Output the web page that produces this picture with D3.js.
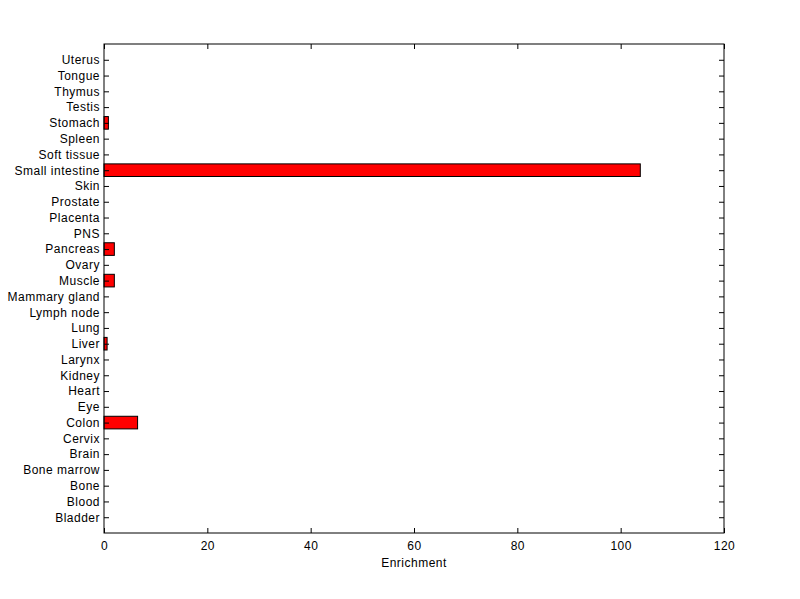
<!DOCTYPE html>
<html>
<head>
<meta charset="utf-8">
<script src="https://cdn.jsdelivr.net/npm/d3@7"></script>
<style>
  body { margin: 0; background: #fff; }
  svg { display: block; font-family: "Liberation Sans", Arial, sans-serif; letter-spacing: 0.5px; }
</style>
</head>
<body>
<script>
// Tissues, bottom to top as drawn
const tissues = ["Bladder", "Blood", "Bone", "Bone marrow", "Brain", "Cervix", "Colon", "Eye",
  "Heart", "Kidney", "Larynx", "Liver", "Lung", "Lymph node", "Mammary gland", "Muscle",
  "Ovary", "Pancreas", "PNS", "Placenta", "Prostate", "Skin", "Small intestine",
  "Soft tissue", "Spleen", "Stomach", "Testis", "Thymus", "Tongue", "Uterus"];
const enrichment = [0, 0, 0, 0, 0, 0, 6.5, 0,
  0, 0, 0, 0.6, 0, 0, 0, 2.0,
  0, 2.0, 0, 0, 0, 0, 103.8,
  0, 0, 0.85, 0, 0, 0, 0];
const xTicks = [0, 20, 40, 60, 80, 100, 120];

const data = tissues.map((t, i) => ({ tissue: t, value: enrichment[i], pos: i + 1 }));

// Set up the dimensions and margins of the chart
const margin = { top: 44, right: 76, bottom: 66, left: 104 };
const width = 800 - margin.left - margin.right;
const height = 599 - margin.top - margin.bottom;

const svg = d3.select("body")
  .append("svg")
  .attr("width", 800)
  .attr("height", 599)
  .append("g")
  .attr("transform", `translate(${margin.left},${margin.top})`);

// Scales
const x = d3.scaleLinear().domain([0, 120]).range([0, width]);
const y = d3.scaleLinear().domain([0, tissues.length + 1]).range([height, 0]);
const step = y(0) - y(1);
const barH = step * 0.8;

// Bars
svg.selectAll("rect.bar")
  .data(data.filter(d => d.value > 0))
  .join("rect")
  .attr("class", "bar")
  .attr("x", x(0))
  .attr("y", d => y(d.pos) - barH / 2)
  .attr("width", d => x(d.value) - x(0))
  .attr("height", barH)
  .attr("fill", "#ff0000")
  .attr("stroke", "#000")
  .attr("stroke-width", 1);

// Axes, ticks pointing inward
const tickLen = 5;
const styleAxis = g => {
  g.select(".domain").remove();
  g.selectAll("line").attr("stroke", "#000");
  g.selectAll("text").attr("fill", "#000").style("font-size", "12px");
};

svg.append("g")
  .attr("transform", `translate(0,${height})`)
  .call(d3.axisBottom(x).tickValues(xTicks).tickSize(-tickLen).tickPadding(8).tickFormat(d3.format("d")))
  .call(styleAxis);

svg.append("g")
  .call(d3.axisTop(x).tickValues(xTicks).tickSize(-tickLen).tickFormat(""))
  .call(styleAxis);

svg.append("g")
  .call(d3.axisLeft(y).tickValues(data.map(d => d.pos)).tickSize(-tickLen).tickPadding(4)
    .tickFormat((d, i) => tissues[i]))
  .call(styleAxis);

svg.append("g")
  .attr("transform", `translate(${width},0)`)
  .call(d3.axisRight(y).tickValues(data.map(d => d.pos)).tickSize(-tickLen).tickFormat(""))
  .call(styleAxis);

// Box
svg.append("rect")
  .attr("width", width)
  .attr("height", height)
  .attr("fill", "none")
  .attr("stroke", "#000")
  .attr("stroke-width", 1);

// X label
svg.append("text")
  .attr("x", width / 2)
  .attr("y", height + 34)
  .attr("text-anchor", "middle")
  .style("font-size", "12px")
  .text("Enrichment");
</script>
</body>
</html>
